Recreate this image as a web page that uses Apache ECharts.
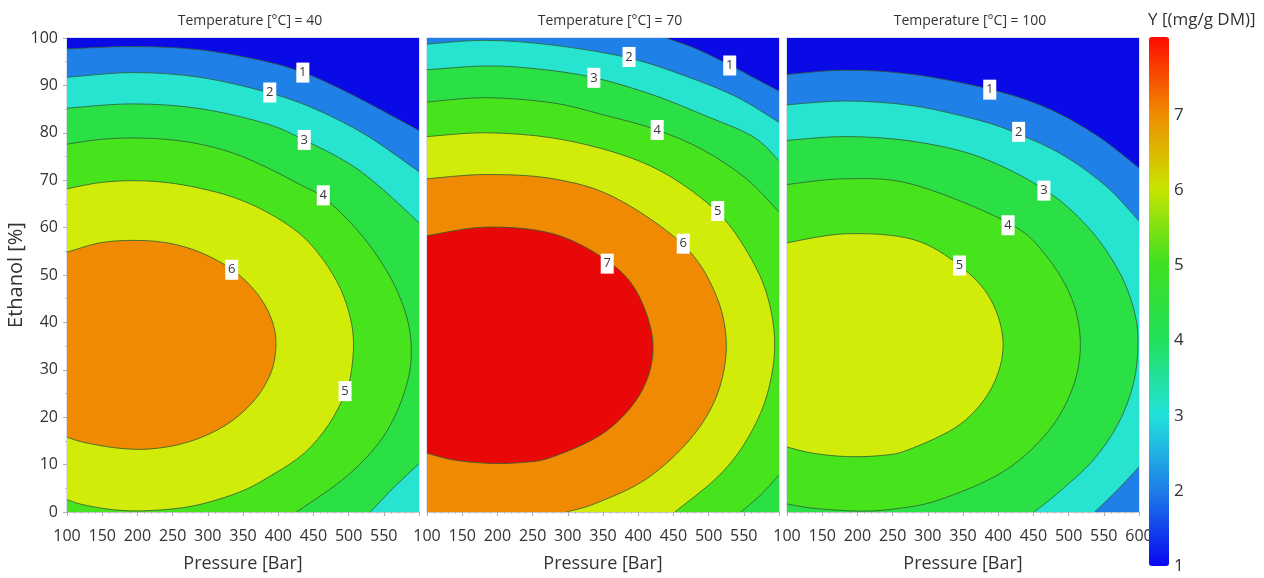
<!DOCTYPE html>
<html><head><meta charset="utf-8">
<script src="https://cdn.jsdelivr.net/npm/echarts@6/dist/echarts.min.js"></script>
<style>html,body{margin:0;padding:0;background:#fff}#c{width:1264px;height:578px}</style>
</head><body><div id="c"></div><script>
// ---------- data ----------
const temps = [40, 70, 100];
const levels = [1, 2, 3, 4, 5, 6, 7];
const pressureRange = [100, 600];
const ethanolRange = [0, 100];
const scaleRange = [1, 8.04];
// fill colour of the band just above each level (index 0 = below level 1)
const bandColors = ['#0a0ae6', '#1f80e8', '#26e4d0', '#2ae044', '#47e31c', '#d0ec08', '#ef8a02', '#e80808'];
const scaleColors = ['#0808f0', '#1e7ee8', '#22e2dc', '#22e05a', '#3ee020', '#c8e400', '#f08a00', '#ff0a00'];

// contour lines [pressure, ethanol], T = 40
const t40_c1 = [[100,97.7],[194.5,98.2],[289,97.5],[383.6,95.0],[435.6,92.7],[478,90.0],[525,86.5],[600,80.5]];
const t40_c2 = [[100,91.7],[194.5,92.7],[289,91.7],[388,88.4],[454,84.9],[525,79.5],[600,71.8]];
const t40_c3a = [[100,85.2],[194.5,86.1],[289,85.1],[383.6,81.9],[438,78.4],[502,73.4],[549,68.0],[600,61.0]];
const t40_c3b = [[600,10.2],[563,5.0],[531,0]];
const t40_c4 = [[100,77.6],[147.3,78.6],[194.5,78.9],[241.8,78.6],[289,77.6],[336.3,75.7],[383.6,72.7],[430.8,69.1],[464,66.4],[503,61.0],[537,54.8],[565,47.9],[583,40.9],[589,34.7],[585.5,28.6],[570,21.6],[547,15.4],[515.5,10.0],[479,5.4],[426,0]];
const t40_c5 = [[100,68.2],[147.3,69.5],[194.5,69.9],[241.8,69.5],[289,68.3],[336.3,66.4],[383.6,63.3],[430.8,58.7],[463.5,53.3],[488.5,47.1],[502.5,40.9],[507,35.5],[503.5,29.3],[495.5,25.1],[472,18.5],[437,12.4],[390,7.7],[345,4.2],[280,1.3],[218,0.3],[171,0.4],[124,1.5],[100,2.6]];
const t40_c6 = [[100,54.8],[147.3,56.8],[194.5,57.3],[241.8,56.8],[289,54.8],[336,51.0],[369,46.3],[390,40.9],[396.8,35.5],[389.5,29.3],[364,23.2],[323,18.1],[271,14.7],[218,13.3],[170.9,13.5],[123.6,14.7],[100,15.8]];
const t40_labels = [[435,92.7,1],[388,88.5,2],[437,78.5,3],[464,66.8,4],[495,25.5,5],[334,51.1,6]];

// T = 70
const t70_c1 = [[440,100],[482.6,97.7],[529,94.4],[563,91.7],[600,88.8]];
const t70_c2 = [[100,98.7],[184.3,99.5],[279,98.5],[386.5,95.8],[468.4,91.9],[539.4,87.6],[600,82.2]];
const t70_c3 = [[100,93.3],[184.3,94.1],[255.3,93.5],[335.8,91.7],[421,88.0],[492,83.8],[563,79.2],[600,74.1]];
const t70_c4a = [[100,86.5],[184.3,87.4],[279,86.3],[350,83.8],[424.8,80.7],[492,76.4],[553.6,70.3],[600,63.3]];
const t70_c4b = [[600,7.8],[574,3.6],[546,0]];
const t70_c5 = [[100,79.2],[184.3,80.0],[279,78.9],[372,75.6],[443,71.0],[511,63.5],[552,55.6],[582,46.3],[593.9,35.5],[583,24.7],[555,15.4],[515,7.7],[452,0]];
const t70_c6 = [[100,70.3],[184.3,71.2],[279,70.3],[366,66.4],[463,56.5],[509,46.3],[525.2,35.5],[512,24.7],[474,15.4],[412,7.0],[341,1.9],[298,0]];
const t70_c7 = [[100,58.3],[184.3,60.1],[279,58.7],[355,53.1],[398.5,46.3],[421,35.5],[405,25.5],[354,17.0],[278,11.6],[231.6,10.4],[184.3,10.3],[136.9,11.0],[100,12.4]];
const t70_labels = [[530,94.2,1],[387,96,2],[337,91.6,3],[427,80.6,4],[513,63.5,5],[464,56.6,6],[356,52.4,7]];

// T = 100
const t100_c1 = [[100,92.3],[184.3,93.2],[279,92.3],[387.9,89.2],[468.4,85.3],[539.4,79.5],[600,72.6]];
const t100_c2a = [[100,85.9],[184.3,86.7],[279,85.7],[373.7,82.6],[429.6,79.7],[492,75.3],[553.6,68.7],[600,61.4]];
const t100_c2b = [[600,9.5],[569,4.6],[537,0]];
const t100_c3 = [[100,78.4],[184.3,79.2],[279,78.2],[373.7,74.9],[465,68.1],[527,60.2],[571,50.9],[593,42.5],[598.6,35.5],[592,27.0],[570,18.5],[534,10.8],[484,3.9],[451,0]];
const t100_c4 = [[100,69.1],[184.3,70.3],[279,69.1],[414.5,61],[468.4,54.0],[505,44.8],[516.7,35.5],[506,26.3],[471,17.0],[407,8.5],[315,2.5],[250,0.6],[200,0.2],[137,0.8],[100,1.7]];
const t100_c5 = [[100,56.8],[184.3,58.7],[279,57.5],[346,51.9],[389.5,44.8],[407,35.5],[391,26.3],[346,18.5],[272,13.1],[231.6,11.9],[184.3,11.7],[136.9,12.4],[100,13.7]];
const t100_labels = [[388,89.1,1],[429,80.2,2],[465,67.8,3],[414,60.5,4],[345,52,5]];

// ---------- build regions: [band index, contour arcs, closing corner points] ----------
const P0 = pressureRange[0], P1 = pressureRange[1], E0 = ethanolRange[0], E1 = ethanolRange[1];
const full = [[P0,E0],[P1,E0],[P1,E1],[P0,E1]];
const panels = [
  { regions: [[0, [], full],
              [1, [t40_c1], [[P1,E0],[P0,E0]]],
              [2, [t40_c2], [[P1,E0],[P0,E0]]],
              [3, [t40_c3a, t40_c3b], [[P0,E0]]],
              [4, [t40_c4], [[P0,E0]]],
              [5, [t40_c5], []],
              [6, [t40_c6], []]],
    lines: [t40_c1, t40_c2, t40_c3a, t40_c3b, t40_c4, t40_c5, t40_c6],
    labels: t40_labels },
  { regions: [[0, [], full],
              [1, [t70_c1], [[P1,E0],[P0,E0],[P0,E1]]],
              [2, [t70_c2], [[P1,E0],[P0,E0]]],
              [3, [t70_c3], [[P1,E0],[P0,E0]]],
              [4, [t70_c4a, t70_c4b], [[P0,E0]]],
              [5, [t70_c5], [[P0,E0]]],
              [6, [t70_c6], [[P0,E0]]],
              [7, [t70_c7], []]],
    lines: [t70_c1, t70_c2, t70_c3, t70_c4a, t70_c4b, t70_c5, t70_c6, t70_c7],
    labels: t70_labels },
  { regions: [[0, [], full],
              [1, [t100_c1], [[P1,E0],[P0,E0]]],
              [2, [t100_c2a, t100_c2b], [[P0,E0]]],
              [3, [t100_c3], [[P0,E0]]],
              [4, [t100_c4], []],
              [5, [t100_c5], []]],
    lines: [t100_c1, t100_c2a, t100_c2b, t100_c3, t100_c4, t100_c5],
    labels: t100_labels }
];

// smooth (Catmull-Rom) path through pixel points
function arcPath(px, first) {
  let d = (first ? 'M' : 'L') + px[0][0] + ',' + px[0][1];
  for (let i = 0; i < px.length - 1; i++) {
    const p0 = px[i - 1] || px[i], p1 = px[i], p2 = px[i + 1], p3 = px[i + 2] || px[i + 1];
    const t = 1 / 6;
    d += ' C' + (p1[0] + (p2[0] - p0[0]) * t) + ',' + (p1[1] + (p2[1] - p0[1]) * t) + ' ' +
         (p2[0] - (p3[0] - p1[0]) * t) + ',' + (p2[1] - (p3[1] - p1[1]) * t) + ' ' + p2[0] + ',' + p2[1];
  }
  return d;
}

const FONT = 'Open Sans';
const TXT = '#333';
const gridLefts = [67, 427, 787];
const grids = gridLefts.map(l => ({ left: l, top: 38, width: 352, height: 479, show: true, borderColor: '#b8c0d4', borderWidth: 1, backgroundColor: 'transparent' }));
grids.push({ left: 1149, top: 37, width: 20, height: 529 });

const xAxes = [0,1,2].map(i => ({
  type: 'value', gridIndex: i, min: P0, max: P1, interval: 50,
  name: 'Pressure [Bar]', nameLocation: 'middle', nameGap: 43,
  nameTextStyle: { fontSize: 18, color: TXT, fontFamily: FONT },
  axisLine: { show: true, lineStyle: { color: '#c4c8d4' } },
  axisTick: { show: true, length: 4, lineStyle: { color: '#b8a8b0' } },
  minorTick: { show: true, splitNumber: 5, length: 2, lineStyle: { color: '#c8b8c0' } },
  splitLine: { show: false },
  axisLabel: { fontSize: 16, color: TXT, fontFamily: FONT, margin: 16, showMaxLabel: i === 2 }
}));
xAxes.push({ type: 'value', gridIndex: 3, show: false, min: 0, max: 1 });

const yAxes = [0,1,2].map(i => ({
  type: 'value', gridIndex: i, min: E0, max: E1, interval: 10,
  name: i === 0 ? 'Ethanol [%]' : '', nameLocation: 'middle', nameGap: 41,
  nameTextStyle: { fontSize: 20, color: TXT, fontFamily: FONT },
  axisLine: { show: true, lineStyle: { color: '#c4c8d4' } },
  axisTick: { show: i === 0, length: 4, lineStyle: { color: '#b8a8b0' } },
  minorTick: { show: i === 0, splitNumber: 2, length: 2, lineStyle: { color: '#c8b8c0' } },
  splitLine: { show: false },
  axisLabel: { show: i === 0, fontSize: 16, color: TXT, fontFamily: FONT, margin: 9 }
}));
yAxes.push({
  type: 'value', gridIndex: 3, position: 'right', min: scaleRange[0], max: scaleRange[1], interval: 1,
  axisLine: { show: false }, axisTick: { show: false }, splitLine: { show: false },
  axisLabel: { fontSize: 17, color: TXT, fontFamily: FONT, margin: 5,
    formatter: v => (levels.indexOf(v) >= 0 ? String(v) : '') }
});

const series = [];
panels.forEach((p, i) => {
  series.push({
    type: 'custom', xAxisIndex: i, yAxisIndex: i, z: 2, clip: true, silent: true,
    data: p.regions.map((r, k) => [k]),
    renderItem: (params, api) => {
      const r = p.regions[params.dataIndex];
      let d = '';
      r[1].forEach((arc, k) => { d += (k ? ' ' : '') + arcPath(arc.map(pt => api.coord(pt)), k === 0); });
      r[2].forEach((pt, k) => {
        const c = api.coord(pt);
        d += (d === '' ? 'M' : ' L') + c[0] + ',' + c[1];
      });
      d += ' Z';
      return { type: 'path', shape: { pathData: d }, style: { fill: bandColors[r[0]], stroke: null } };
    }
  });
  series.push({
    type: 'custom', xAxisIndex: i, yAxisIndex: i, z: 3, clip: true, silent: true,
    data: p.lines.map((r, k) => [k]),
    renderItem: (params, api) => {
      const ln = p.lines[params.dataIndex];
      return { type: 'path', shape: { pathData: arcPath(ln.map(pt => api.coord(pt)), true) },
               style: { fill: null, stroke: '#2e5a34', lineWidth: 0.8 } };
    }
  });
  series.push({
    type: 'scatter', xAxisIndex: i, yAxisIndex: i, z: 4, silent: true,
    symbol: 'rect', symbolSize: [13, 20],
    itemStyle: { color: '#ffffff', opacity: 1 },
    label: { show: true, position: 'inside', formatter: d => String(d.value[2]),
             fontSize: 13, color: '#3a3a3a', fontFamily: FONT },
    data: p.labels
  });
});
series.push({ type: 'scatter', xAxisIndex: 3, yAxisIndex: 3, data: [], name: 'scale' });

const titles = temps.map((t, i) => ({
  text: 'Temperature [°C] = ' + t, left: gridLefts[i] + 178, top: 9, textAlign: 'center',
  textStyle: { fontSize: 14, fontWeight: 'normal', color: TXT, fontFamily: FONT }
}));
titles.push({ text: 'Y [(mg/g DM)]', left: 1143, top: 7,
  textStyle: { fontSize: 17, fontWeight: 'normal', color: TXT, fontFamily: FONT } });

const chart = echarts.init(document.getElementById('c'), null, { renderer: 'canvas' });
chart.setOption({
  animation: false,
  backgroundColor: '#ffffff',
  title: titles,
  grid: grids,
  xAxis: xAxes,
  yAxis: yAxes,
  visualMap: {
    type: 'continuous', seriesIndex: series.length - 1, min: scaleRange[0], max: scaleRange[1],
    left: 1149, top: 37, itemWidth: 20, itemHeight: 529, padding: 0,
    calculable: false, showLabel: false, text: null, hoverLink: false,
    inRange: { color: scaleColors }
  },
  series: series
});
</script></body></html>
